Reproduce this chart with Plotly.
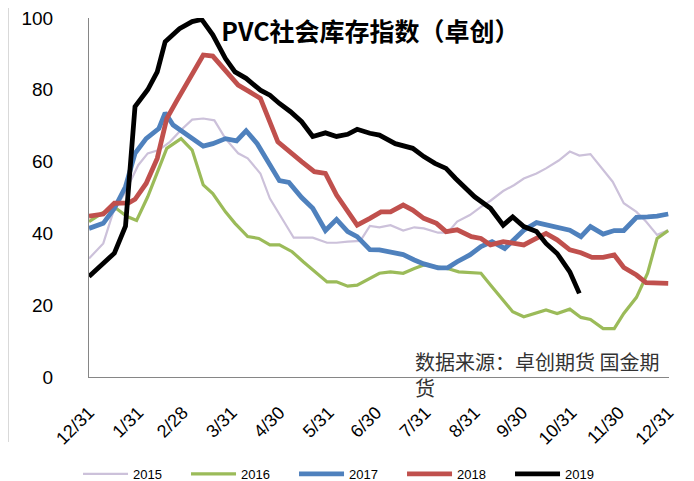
import plotly.graph_objects as go

# x = days after 12/31 of previous year
tick_days = [0, 31, 59, 90, 120, 151, 181, 212, 243, 273, 304, 334, 365]
tick_labels = ["12/31", "1/31", "2/28", "3/31", "4/30", "5/31", "6/30",
               "7/31", "8/31", "9/30", "10/31", "11/30", "12/31"]

d2015 = [0, 9, 15, 23, 31, 37, 44, 51, 58, 65, 72, 79, 86, 94, 100, 108, 114, 121, 129, 135,
         141, 150, 156, 163, 171, 177, 183, 190, 198, 205, 211, 220, 226, 232, 240, 247, 253,
         261, 268, 274, 282, 288, 296, 303, 309, 316, 323, 330, 337, 345, 351, 358, 365]
v2015 = [33, 37.2, 45.6, 51.6, 59, 62.3, 63.2, 65.5, 68.8, 71.7, 72, 71.5, 66.4, 62.3, 60.9,
         56.7, 49.7, 44.7, 38.8, 38.8, 38.8, 37.4, 37.4, 37.7, 37.9, 42.1, 41.7, 42.3, 40.8,
         41.7, 41.4, 40.2, 40.2, 43.3, 45.1, 47.4, 49.1, 51.8, 53.5, 55.3, 56.7, 58.1, 60.3,
         62.8, 61.7, 62.1, 58.1, 54.4, 48.4, 46, 43.3, 39.6, 40.9]

d2016 = [0, 8, 17, 24, 30, 37, 49, 58, 65, 72, 78, 86, 92, 100, 107, 114, 120, 128, 135, 141,
         150, 156, 163, 169, 177, 183, 190, 198, 205, 211, 219, 226, 233, 241, 247, 253, 261,
         267, 274, 281, 288, 295, 303, 310, 316, 324, 331, 337, 345, 352, 358, 365]
v2016 = [43.3, 45.6, 47, 44.7, 43.6, 50.2, 63.7, 66.4, 63.2, 53.5, 51.1, 46, 42.8, 39.1, 38.6,
         36.8, 36.8, 34.9, 32.1, 29.8, 26.5, 26.5, 25.3, 25.6, 27.4, 28.9, 29.3, 28.9, 30.2,
         31.2, 30.7, 30.2, 29.3, 29, 28.9, 25.6, 21.4, 18.2, 16.8, 17.7, 18.7, 17.7, 18.9, 16.6,
         16, 13.5, 13.5, 17.7, 22.2, 28.9, 38.6, 40.8]

d2017 = [0, 9, 16, 23, 29, 36, 44, 48, 53, 60, 72, 78, 86, 93, 99, 106, 113, 120, 126, 134,
         141, 149, 156, 163, 169, 177, 183, 191, 198, 205, 211, 220, 226, 232, 240, 247, 254,
         262, 268, 274, 282, 289, 296, 303, 310, 316, 324, 331, 337, 345, 352, 358, 365]
v2017 = [41.4, 42.8, 47, 53, 62.3, 66.4, 69.2, 73.6, 70.2, 67.9, 64.3, 65, 66.4, 65.8, 68.6,
         65, 60, 54.7, 54.2, 50, 47, 40.8, 43.9, 40.5, 39.1, 35.5, 35.4, 34.6, 34.1, 32.6, 31.5,
         30.4, 30.4, 32.1, 34, 36.3, 37.7, 35.8, 38.2, 40.9, 43, 42.3, 41.4, 40.9, 39.1, 41.9,
         39.8, 40.8, 40.8, 44.5, 44.6, 44.8, 45.4]

d2018 = [0, 9, 16, 25, 29, 36, 43, 49, 55, 65, 72, 78, 86, 94, 101, 108, 119, 126, 134, 142,
         149, 156, 163, 169, 177, 184, 190, 198, 204, 211, 219, 225, 232, 241, 247, 253, 261,
         268, 274, 280, 288, 295, 303, 310, 317, 324, 331, 337, 345, 351, 358, 365]
v2018 = [44.8, 45.4, 48.4, 48.5, 49.5, 53.9, 60.9, 72, 76.7, 84.6, 89.7, 89.4, 85.5, 81.3,
         79.5, 77.6, 65.5, 62.8, 60, 57.2, 56.7, 50.7, 46, 42.3, 44.2, 46, 46, 47.9, 46.5, 44.2,
         42.8, 40.5, 41, 39.1, 38.6, 36.8, 37.7, 37.2, 36.8, 38.2, 40, 38.2, 35.4, 34.6, 33.3,
         33.3, 34, 30.5, 28.4, 26.3, 26.1, 26.1]

d2019 = [0, 9, 16, 23, 29, 37, 43, 48, 57, 65, 71, 78, 86, 92, 99, 108, 114, 120, 127, 134,
         141, 149, 156, 163, 169, 177, 183, 193, 204, 211, 218, 225, 231, 243, 253, 261, 267,
         274, 282, 288, 295, 303, 309]
v2019 = [28, 31.7, 34.5, 42, 75.3, 80, 85, 93.4, 97, 99, 99.6, 95.3, 88.7, 85, 83.2, 79.9,
         78.5, 76.2, 73.9, 71.1, 67, 68, 67, 67.6, 69, 67.9, 67.4, 65, 63.7, 61.4, 59.5, 58.1,
         55.3, 50.2, 47, 42.3, 44.6, 41.9, 40.5, 37.2, 34.4, 29.3, 23.3]

series = [
    ("2015", d2015, v2015, "#CCC1DA", 2.2),
    ("2016", d2016, v2016, "#9BBB59", 3.2),
    ("2017", d2017, v2017, "#4F81BD", 4.8),
    ("2018", d2018, v2018, "#C0504D", 4.8),
    ("2019", d2019, v2019, "#000000", 4.8),
]

fig = go.Figure()
for name, xs, ys, color, w in series:
    fig.add_trace(go.Scatter(x=xs, y=ys, mode="lines", name=name,
                             line=dict(color=color, width=w)))

fig.update_layout(
    width=694, height=481,
    margin=dict(l=81, r=33, t=10, b=112),
    paper_bgcolor="white", plot_bgcolor="white",
    font=dict(family="Liberation Sans, Arial, sans-serif", color="#000000"),
    title=dict(text="<b>PVC社会库存指数（卓创）</b>",
               font=dict(family="Noto Sans CJK SC, sans-serif", size=25, color="#000000"),
               x=0.5223, xanchor="center", y=0.949, yanchor="middle", xref="container", yref="container"),
    showlegend=True,
    legend=dict(orientation="h", xref="container", x=0.1009, xanchor="left",
                yref="container", y=0.0312, yanchor="middle",
                font=dict(size=13, color="#000000"), itemwidth=45,
                entrywidth=48, entrywidthmode="pixels", bgcolor="rgba(0,0,0,0)"),
    xaxis=dict(range=[0, 365.5], tickmode="array", tickvals=tick_days, ticktext=tick_labels,
               tickangle=-45, showgrid=False, zeroline=False, showline=True,
               linecolor="#868686", linewidth=1, ticks="", tickfont=dict(size=18),
               ticklabelstandoff=17, automargin=False, ticklabeloverflow="allow"),
    yaxis=dict(range=[0, 100], tickvals=[0, 20, 40, 60, 80, 100], showgrid=False,
               zeroline=False, showline=True, linecolor="#868686", linewidth=1,
               ticks="", tickfont=dict(size=19), ticklabelstandoff=31, automargin=False,
               ticklabeloverflow="allow"),
)

fig.add_annotation(text="数据来源：卓创期货 国金期<br>货", xref="paper", yref="paper",
                   x=0.5586, y=0.089, xanchor="left", yanchor="top", align="left",
                   showarrow=False,
                   font=dict(family="Noto Sans CJK SC, sans-serif", size=20, color="#333333"))

# frame edge of the original cropped picture
fig.add_shape(type="line", xref="paper", yref="paper", x0=-0.1388, x1=-0.1388, y0=1.06, y1=-0.181,
              line=dict(color="#D9D9D9", width=1))

fig.write_html("out.html")
